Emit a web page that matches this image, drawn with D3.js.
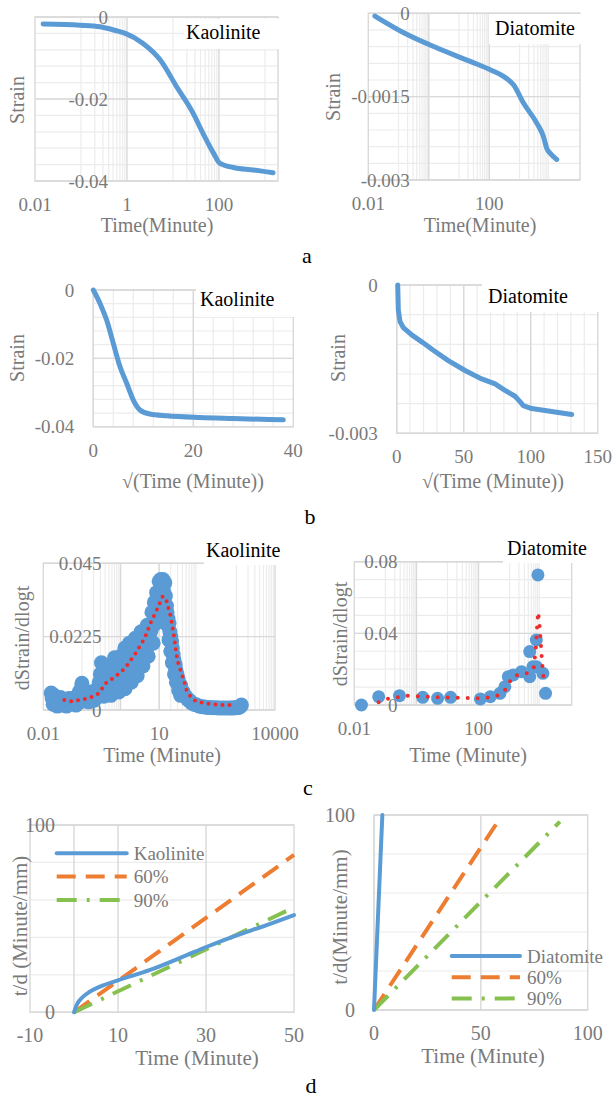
<!DOCTYPE html>
<html lang="en">
<head>
<meta charset="UTF-8"/>
<title>Consolidation curves</title>
<script src="https://d3js.org/d3.v7.min.js"></script>
<style>
    body { margin: 0; background: #fff; }
    svg text { font-family: "Liberation Serif", "Times New Roman", serif; }
</style>
</head>
<body>
<svg width="615" height="1099"></svg>
<script>
// ---------- data ----------
// a: strain vs time (log axis)
var aKaoTime = [0.015, 0.096, 0.26, 0.56, 0.92, 2.2, 5.3, 12, 27.5, 45, 76, 105, 204, 560, 1500];
var aKaoStrain = [-0.0017, -0.002, -0.0024, -0.0033, -0.004, -0.0064, -0.0105, -0.017, -0.0235, -0.0284, -0.0332, -0.0357, -0.0367, -0.0373, -0.038];
var aDiaTime = [0.0165, 0.16, 1.97, 24.5, 112, 305, 640, 1370, 3760, 6200, 7950, 10300, 17000];
var aDiaStrain = [-0.00005, -0.00036, -0.00063, -0.00087, -0.00102, -0.00114, -0.00129, -0.00162, -0.00198, -0.00222, -0.00243, -0.00252, -0.00263];

// b: strain vs sqrt(time)
var bKaoRoot = [0, 1.33, 2.67, 4, 5.33, 6.67, 8, 9.33, 11.3, 14.7, 21.3, 28, 38];
var bKaoStrain = [0, -0.0039, -0.0088, -0.0156, -0.0224, -0.0273, -0.0322, -0.0351, -0.0363, -0.0368, -0.0373, -0.0376, -0.038];
var bDiaRoot = [0.75, 1.2, 2.5, 4.9, 11.2, 18.7, 27.3, 38.5, 51, 63.4, 73.4, 80.8, 88.3, 92, 94.5, 100.7, 110.7, 120.6, 130.6];
var bDiaStrain = [0, -0.00051, -0.00074, -0.00086, -0.00101, -0.00115, -0.00132, -0.00153, -0.00173, -0.0019, -0.002, -0.00213, -0.00225, -0.00236, -0.00244, -0.0025, -0.00254, -0.00258, -0.00262];

// c: dStrain/dlogt vs time, points and moving average
var cKaoTime = [0.016, 0.018, 0.02, 0.023, 0.026, 0.03, 0.035, 0.04, 0.046, 0.052, 0.06, 0.07, 0.08, 0.09, 0.1, 0.11, 0.13, 0.15, 0.17, 0.19,
    0.22, 0.25, 0.28, 0.32, 0.33, 0.37, 0.4, 0.45, 0.5, 0.56, 0.62, 0.7, 0.76, 0.82, 0.9, 1.0, 1.1, 1.3, 1.3, 1.5,
    1.7, 1.9, 2.1, 2.4, 2.7, 3.0, 3.4, 3.8, 4.3, 4.9, 5.2, 5.8, 6.5, 7.0, 7.5, 8.0, 8.6, 9.2, 10, 10.5,
    11, 11.5, 12.5, 13, 14, 13.5, 14.5, 15.5, 17, 19, 21, 23, 26, 29, 33, 38, 45, 55, 70, 90,
    130, 180, 250, 350, 500, 700, 900, 1150, 1350,
    0.017, 0.019, 0.021, 0.024, 0.028, 0.032, 0.038, 0.043, 0.055, 0.065, 0.075, 0.085, 0.095, 0.105, 0.12, 0.14, 0.16, 0.18, 0.2, 0.21,
    0.24, 0.27, 0.3, 0.35, 0.38, 0.42, 0.48, 0.52, 0.58, 0.65, 0.68, 0.85, 0.95, 1.05, 1.2, 1.4, 1.6, 1.8, 2.0, 2.2,
    2.5, 2.9, 3.2, 3.6, 4.0, 4.6, 5.5, 6.2, 6.8, 7.8, 8.3, 9.5, 10.8, 12, 12.8, 13.8, 14.8, 16, 16.5, 18,
    18, 20, 20, 22, 22, 24, 25, 27, 28, 31, 32, 36, 36, 42, 50, 62, 80, 110, 155, 210,
    300, 420, 600, 800, 1000, 1250];
var cKaoRate = [0.0052, 0.0018, 0.0035, 0.0012, 0.003, 0.0015, 0.0028, 0.0012, 0.0035, 0.002, 0.0028, 0.0015, 0.0042, 0.0025, 0.0082, 0.0035, 0.0048, 0.0025, 0.0055, 0.0035,
    0.006, 0.004, 0.0085, 0.0145, 0.006, 0.0042, 0.011, 0.0065, 0.0125, 0.0045, 0.0095, 0.016, 0.0065, 0.012, 0.0055, 0.0165, 0.009, 0.019, 0.0065, 0.013,
    0.0205, 0.0085, 0.016, 0.022, 0.0105, 0.019, 0.024, 0.0135, 0.021, 0.026, 0.0165, 0.0235, 0.030, 0.0205, 0.033, 0.0265, 0.036, 0.029, 0.0395, 0.032,
    0.040, 0.035, 0.040, 0.0365, 0.039, 0.031, 0.035, 0.032, 0.028, 0.024, 0.021, 0.017, 0.014, 0.011, 0.008, 0.006, 0.0045, 0.0032, 0.0022, 0.0016,
    0.001, 0.0008, 0.0007, 0.0006, 0.0006, 0.0006, 0.0007, 0.0008, 0.0015,
    0.0035, 0.0045, 0.002, 0.0025, 0.0038, 0.0025, 0.0022, 0.0028, 0.0035, 0.0022, 0.003, 0.0055, 0.0065, 0.0055, 0.0028, 0.0042, 0.0038, 0.0052, 0.0048, 0.003,
    0.0055, 0.0045, 0.011, 0.0085, 0.0125, 0.0055, 0.0095, 0.0075, 0.0135, 0.0075, 0.012, 0.0145, 0.011, 0.013, 0.0115, 0.0165, 0.0105, 0.0145, 0.0185, 0.0125,
    0.0165, 0.0145, 0.0215, 0.018, 0.0165, 0.0235, 0.02, 0.0245, 0.0265, 0.0295, 0.031, 0.034, 0.036, 0.0335, 0.029, 0.027, 0.031, 0.03, 0.026, 0.0265,
    0.0215, 0.0225, 0.018, 0.019, 0.0145, 0.0155, 0.011, 0.0125, 0.0085, 0.0095, 0.006, 0.0075, 0.0045, 0.0055, 0.004, 0.0028, 0.0018, 0.0012, 0.0009, 0.0008,
    0.0007, 0.0006, 0.0006, 0.0006, 0.0007, 0.001];
var cKaoAvgTime = [0.035, 0.058, 0.085, 0.15, 0.275, 0.41, 0.73, 1.3, 2.3, 4.2, 6.2, 9.1, 12.3, 14.9, 20, 24.3, 29.5, 35.6, 43.4, 52.4, 77, 115, 206, 550, 900];
var cKaoAvgRate = [0.0031, 0.0026, 0.0031, 0.0036, 0.0051, 0.0082, 0.0102, 0.0128, 0.0169, 0.022, 0.0271, 0.0312, 0.0348, 0.0343, 0.0286, 0.0225, 0.0153, 0.0123, 0.0092, 0.0056, 0.0031, 0.0024, 0.0018, 0.0015, 0.0015];

var cDiaTime = [0.017, 0.061, 0.285, 1.6, 4.8, 12.6, 115, 240, 490, 705, 910, 1320, 2420, 4450, 5650, 4450, 7250, 8200, 7250, 11800, 14400];
var cDiaRate = [0, 0.0046, 0.0052, 0.0043, 0.0037, 0.0043, 0.0034, 0.0046, 0.0065, 0.0102, 0.0158, 0.0168, 0.0186, 0.0158, 0.0214, 0.0298, 0.0363, 0.0726, 0.0214, 0.0177, 0.0065];
var cDiaAvgTime = [0.061, 0.12, 0.5, 3, 30, 115, 300, 600, 900, 1200, 2300, 4500, 6000, 7000, 7700, 8300, 9000, 10000, 11000, 12500];
var cDiaAvgRate = [0.0015, 0.0035, 0.0052, 0.0045, 0.004, 0.0038, 0.0045, 0.0065, 0.011, 0.0158, 0.0172, 0.018, 0.0205, 0.032, 0.044, 0.052, 0.047, 0.036, 0.025, 0.0145];

// d: t/d vs time
var dKaoTime = [0, 0.6, 1.7, 3.6, 5.9, 10.1, 17.3, 24.8, 30.2, 36.2, 43.8, 50];
var dKaoRatio = [0, 3.9, 7.5, 11, 13.7, 17.2, 22.6, 29.7, 35, 40.4, 46.6, 51.9];
var dKao60Time = [0, 50], dKao60Ratio = [0, 84];
var dKao90Time = [0, 50], dKao90Ratio = [0, 56];
var dDiaTime = [0, 3.9], dDiaRatio = [0, 100];
var dDia60Time = [0, 57.4], dDia60Ratio = [0, 95.7];
var dDia90Time = [0, 87], dDia90Ratio = [0, 96.6];

var kaoLegend = ["Kaolinite", "60%", "90%"];
var diaLegend = ["Diatomite", "60%", "90%"];

// ---------- drawing ----------
var svg = d3.select("svg");
svg.append("rect").attr("width", 615).attr("height", 1099).attr("fill", "#fff");

var blue = "#5b9bd5", orange = "#ed7d31", green = "#86c14f", red = "#ee2b2b";
var grey = "#7a7a7a", minorCol = "#ececec", majorCol = "#d9d9d9";

var seriesStyle = {
    solid: { color: blue, dash: null },
    dash: { color: orange, dash: "19 10" },
    dashdot: { color: green, dash: "20 10 3 10" }
};

function panel(p) {
    var g = svg.append("g");
    var x = (p.xLog ? d3.scaleLog() : d3.scaleLinear()).domain(p.xDomain).range([p.left, p.right]);
    var y = d3.scaleLinear().domain(p.yDomain).range([p.bottom, p.top]);

    // minor grid
    var hMinor = [];
    if (p.yMinor) {
        var n = Math.round((p.yDomain[1] - p.yDomain[0]) / p.yMinor);
        for (var i = 1; i < n; i++) hMinor.push(p.yDomain[0] + i * p.yMinor);
    }
    var vMinor = [];
    if (p.xLog) {
        var e0 = Math.floor(Math.log10(p.xDomain[0])), e1 = Math.ceil(Math.log10(p.xDomain[1]));
        for (var e = e0; e <= e1; e++) {
            if (Math.abs(e) % 2 !== 1) continue;
            for (var k = 1; k <= 9; k++) {
                var v = k * Math.pow(10, e);
                if (v > p.xDomain[0] && v < p.xDomain[1]) vMinor.push(v);
            }
        }
    } else if (p.xMinor) {
        var m = Math.round((p.xDomain[1] - p.xDomain[0]) / p.xMinor);
        for (var j = 1; j < m; j++) vMinor.push(p.xDomain[0] + j * p.xMinor);
    }
    g.selectAll(null).data(hMinor).enter().append("line")
        .attr("x1", p.left).attr("x2", p.right)
        .attr("y1", function(d) { return y(d); }).attr("y2", function(d) { return y(d); })
        .attr("stroke", minorCol).attr("stroke-width", 1.2);
    g.selectAll(null).data(vMinor).enter().append("line")
        .attr("y1", p.top).attr("y2", p.bottom)
        .attr("x1", function(d) { return x(d); }).attr("x2", function(d) { return x(d); })
        .attr("stroke", minorCol).attr("stroke-width", 1.2);

    // major grid
    g.selectAll(null).data(p.yTicks).enter().append("line")
        .attr("x1", p.left).attr("x2", p.right)
        .attr("y1", function(d) { return y(d); }).attr("y2", function(d) { return y(d); })
        .attr("stroke", majorCol).attr("stroke-width", 1.4);
    g.selectAll(null).data(p.xGrid.concat([p.cross])).enter().append("line")
        .attr("y1", p.top).attr("y2", p.bottom)
        .attr("x1", function(d) { return x(d); }).attr("x2", function(d) { return x(d); })
        .attr("stroke", majorCol).attr("stroke-width", 1.4);
    g.append("rect")
        .attr("x", p.left).attr("y", p.top)
        .attr("width", p.right - p.left).attr("height", p.bottom - p.top)
        .attr("fill", "none").attr("stroke", majorCol).attr("stroke-width", 1.4);

    // tick labels
    var ax = x(p.cross) - 19;
    g.selectAll(null).data(p.yTicks).enter().append("text")
        .attr("x", ax).attr("y", function(d) { return y(d); }).attr("dy", "0.35em")
        .attr("text-anchor", "end").attr("fill", grey).style("font-size", p.fs + "px")
        .text(function(d) { return String(d); });
    g.selectAll(null).data(p.xTicks).enter().append("text")
        .attr("x", function(d) { return x(d); }).attr("y", p.bottom + 30)
        .attr("text-anchor", "middle").attr("fill", grey).style("font-size", p.fs + "px")
        .text(function(d) { return String(d); });

    // titles
    g.append("text").attr("x", p.xTitle[1]).attr("y", p.xTitle[2])
        .attr("text-anchor", "middle").attr("fill", grey).style("font-size", p.tfs + "px")
        .text(p.xTitle[0]);
    g.append("text")
        .attr("transform", "translate(" + p.yTitle[1] + "," + p.yTitle[2] + ") rotate(-90)")
        .attr("dy", "0.35em").attr("text-anchor", "middle").attr("fill", grey)
        .style("font-size", p.tfs + "px").text(p.yTitle[0]);

    return { g: g, x: x, y: y };
}

function curve(c, xs, ys, style, width, smooth) {
    var line = d3.line()
        .x(function(d) { return c.x(d[0]); })
        .y(function(d) { return c.y(d[1]); });
    if (smooth) line.curve(d3.curveMonotoneX);
    c.g.append("path")
        .attr("d", line(d3.zip(xs, ys)))
        .attr("fill", "none")
        .attr("stroke", style.color)
        .attr("stroke-width", width)
        .attr("stroke-dasharray", style.dash)
        .attr("stroke-linecap", style.dash ? "butt" : "round")
        .attr("stroke-linejoin", "round");
}

function dots(c, xs, ys, r) {
    c.g.selectAll(null).data(d3.zip(xs, ys)).enter().append("circle")
        .attr("cx", function(d) { return c.x(d[0]); })
        .attr("cy", function(d) { return c.y(d[1]); })
        .attr("r", r).attr("fill", blue);
}

function average(c, xs, ys, gap) {
    var line = d3.line()
        .x(function(d) { return c.x(d[0]); })
        .y(function(d) { return c.y(d[1]); });
    c.g.append("path")
        .attr("d", line(d3.zip(xs, ys)))
        .attr("fill", "none").attr("stroke", red).attr("stroke-width", 4)
        .attr("stroke-linecap", "round").attr("stroke-dasharray", "0 " + gap);
}

function tag(c, t) {
    c.g.append("rect").attr("x", t.x).attr("y", t.y).attr("width", t.w).attr("height", t.h).attr("fill", "#fff");
    c.g.append("text").attr("x", t.tx).attr("y", t.ty).attr("fill", "#000")
        .style("font-size", "20px").text(t.text);
}

function legend(c, names, styles, x0, x1, y0, step) {
    names.forEach(function(name, i) {
        var st = seriesStyle[styles[i]];
        c.g.append("line")
            .attr("x1", x0).attr("x2", x1).attr("y1", y0 + i * step).attr("y2", y0 + i * step)
            .attr("stroke", st.color).attr("stroke-width", 4)
            .attr("stroke-dasharray", st.dash)
            .attr("stroke-linecap", st.dash ? "butt" : "round");
        c.g.append("text").attr("x", x1 + 7).attr("y", y0 + i * step).attr("dy", "0.35em")
            .attr("fill", grey).style("font-size", "19px").text(name);
    });
}

// ----- panel a -----
var aL = panel({ left: 35, right: 278, top: 17, bottom: 181, xLog: true, xDomain: [0.01, 1920],
    yDomain: [-0.04, 0], yMinor: 0.004, yTicks: [0, -0.02, -0.04], xTicks: [0.01, 1, 100], xGrid: [100], cross: 1,
    fs: 19, tfs: 20, xTitle: ["Time(Minute)", 157, 232], yTitle: ["Strain", 17, 100] });
curve(aL, aKaoTime, aKaoStrain, seriesStyle.solid, 5, true);
tag(aL, { x: 184, y: 19, w: 96, h: 30, tx: 186, ty: 39, text: "Kaolinite" });

var aR = panel({ left: 368.3, right: 580, top: 13.3, bottom: 180, xLog: true, xDomain: [0.01, 1e5],
    yDomain: [-0.003, 0], yMinor: 0.0003, yTicks: [0, -0.0015, -0.003], xTicks: [0.01, 100], xGrid: [100], cross: 1,
    fs: 19, tfs: 20, xTitle: ["Time(Minute)", 480, 232], yTitle: ["Strain", 333, 97] });
curve(aR, aDiaTime, aDiaStrain, seriesStyle.solid, 5, true);
tag(aR, { x: 489, y: 14, w: 95, h: 30, tx: 495, ty: 35, text: "Diatomite" });

// ----- panel b -----
var bL = panel({ left: 93.3, right: 293.3, top: 290, bottom: 426.7, xLog: false, xDomain: [0, 40], xMinor: 4,
    yDomain: [-0.04, 0], yMinor: 0.004, yTicks: [0, -0.02, -0.04], xTicks: [0, 20, 40], xGrid: [20], cross: 0,
    fs: 19, tfs: 20, xTitle: ["\u221A(Time (Minute))", 193, 488], yTitle: ["Strain", 17, 358] });
curve(bL, bKaoRoot, bKaoStrain, seriesStyle.solid, 5, true);
tag(bL, { x: 196, y: 279, w: 100, h: 38, tx: 200, ty: 306, text: "Kaolinite" });

var bR = panel({ left: 396.7, right: 597.7, top: 285, bottom: 433.3, xLog: false, xDomain: [0, 150], xMinor: 10,
    yDomain: [-0.003, 0], yMinor: 0.0006, yTicks: [0, -0.003], xTicks: [0, 50, 100, 150], xGrid: [50, 100], cross: 0,
    fs: 19, tfs: 20, xTitle: ["\u221A(Time (Minute))", 493, 488], yTitle: ["Strain", 338, 358] });
curve(bR, bDiaRoot, bDiaStrain, seriesStyle.solid, 5, false);
tag(bR, { x: 482, y: 279, w: 118, h: 33, tx: 488, ty: 303, text: "Diatomite" });

// ----- panel c -----
var cL = panel({ left: 43.3, right: 275, top: 563.3, bottom: 710, xLog: true, xDomain: [0.01, 1e4],
    yDomain: [0, 0.045], yMinor: 0, yTicks: [0, 0.0225, 0.045], xTicks: [0.01, 10, 10000], xGrid: [10], cross: 1,
    fs: 19, tfs: 20, xTitle: ["Time (Minute)", 162, 762], yTitle: ["dStrain/dlogt", 22, 638] });
dots(cL, cKaoTime, cKaoRate, 7.5);
average(cL, cKaoAvgTime, cKaoAvgRate, 7);
tag(cL, { x: 204, y: 536, w: 92, h: 29, tx: 206, ty: 557, text: "Kaolinite" });

var cR = panel({ left: 354.3, right: 571.7, top: 561.7, bottom: 705, xLog: true, xDomain: [0.01, 1e5],
    yDomain: [0, 0.08], yMinor: 0.01, yTicks: [0, 0.04, 0.08], xTicks: [0.01, 100], xGrid: [100], cross: 1,
    fs: 19, tfs: 20, xTitle: ["Time (Minute)", 468, 762], yTitle: ["dStrain/dlogt", 340, 634] });
dots(cR, cDiaTime, cDiaRate, 6.5);
average(cR, cDiaAvgTime, cDiaAvgRate, 10);
tag(cR, { x: 503, y: 534, w: 97, h: 29, tx: 507, ty: 555, text: "Diatomite" });

// ----- panel d -----
var dL = panel({ left: 30, right: 294, top: 825, bottom: 1012.3, xLog: false, xDomain: [-10, 50],
    yDomain: [0, 100], yMinor: 20, yTicks: [0, 100], xTicks: [-10, 10, 30, 50], xGrid: [10, 30], cross: 0,
    fs: 20, tfs: 21, xTitle: ["Time (Minute)", 197, 1065], yTitle: ["t/d (Minute/mm)", 20, 926] });
curve(dL, dKao60Time, dKao60Ratio, seriesStyle.dash, 4, false);
curve(dL, dKao90Time, dKao90Ratio, seriesStyle.dashdot, 4, false);
curve(dL, dKaoTime, dKaoRatio, seriesStyle.solid, 4, true);
legend(dL, kaoLegend, ["solid", "dash", "dashdot"], 56.7, 126.7, 853.3, 23.3);

var dR = panel({ left: 374, right: 587.7, top: 815, bottom: 1010, xLog: false, xDomain: [0, 100],
    yDomain: [0, 100], yMinor: 20, yTicks: [0, 100], xTicks: [0, 50, 100], xGrid: [50], cross: 0,
    fs: 20, tfs: 21, xTitle: ["Time (Minute)", 483, 1063], yTitle: ["t/d(Minute/mm)", 340, 917] });
curve(dR, dDia60Time, dDia60Ratio, seriesStyle.dash, 4, false);
curve(dR, dDia90Time, dDia90Ratio, seriesStyle.dashdot, 4, false);
curve(dR, dDiaTime, dDiaRatio, seriesStyle.solid, 4, false);
legend(dR, diaLegend, ["solid", "dash", "dashdot"], 451.7, 520, 956, 21.2);

// sub-figure letters
var letters = [["a", 307, 263], ["b", 310, 524], ["c", 308, 795], ["d", 311, 1093]];
svg.selectAll(".letter").data(letters).enter().append("text")
    .attr("x", function(d) { return d[1]; }).attr("y", function(d) { return d[2]; })
    .attr("text-anchor", "middle").attr("fill", "#000").style("font-size", "22px")
    .text(function(d) { return d[0]; });
</script>
</body>
</html>
